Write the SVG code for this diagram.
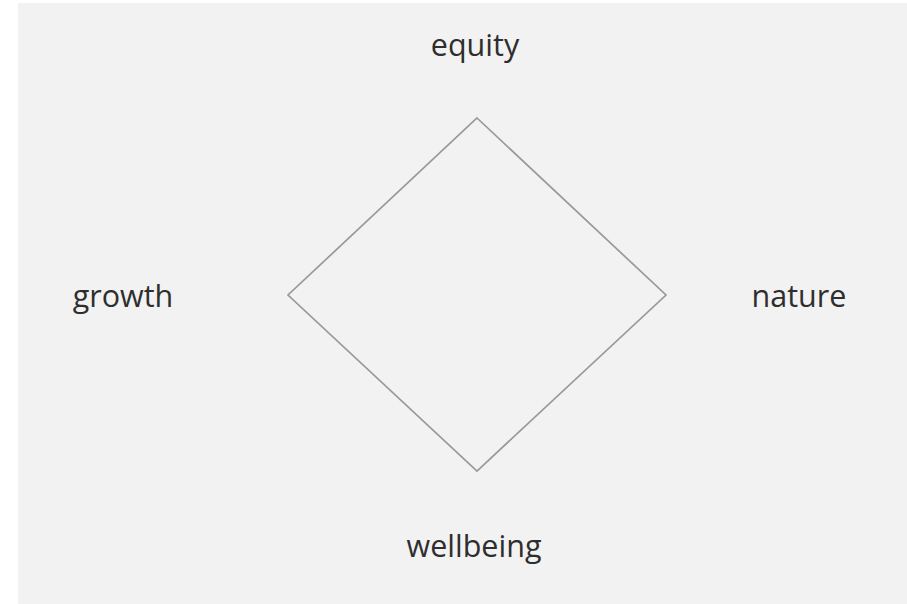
<svg xmlns="http://www.w3.org/2000/svg" width="907" height="604" viewBox="0 0 907 604">
<style>
.lbl{font-family:"Open Sans","Noto Sans","DejaVu Sans",sans-serif;font-size:30.5px;fill:#2e2e2e;text-anchor:middle}
.edge{fill:none;stroke:#999999;stroke-width:1.7;stroke-linejoin:miter}
</style>
<rect x="0" y="0" width="907" height="604" fill="#ffffff"/>
<rect x="18" y="3" width="889" height="601" fill="#f2f2f2"/>
<g id="connectors">
<path class="edge" d="M477,118 L666,295 L477,471 L288,295 Z"/>
</g>
<g id="equity"><text class="lbl" x="475" y="56">equity</text></g>
<g id="growth"><text class="lbl" x="123" y="307">growth</text></g>
<g id="nature"><text class="lbl" x="799" y="307">nature</text></g>
<g id="wellbeing"><text class="lbl" x="474" y="557">wellbeing</text></g>
</svg>
